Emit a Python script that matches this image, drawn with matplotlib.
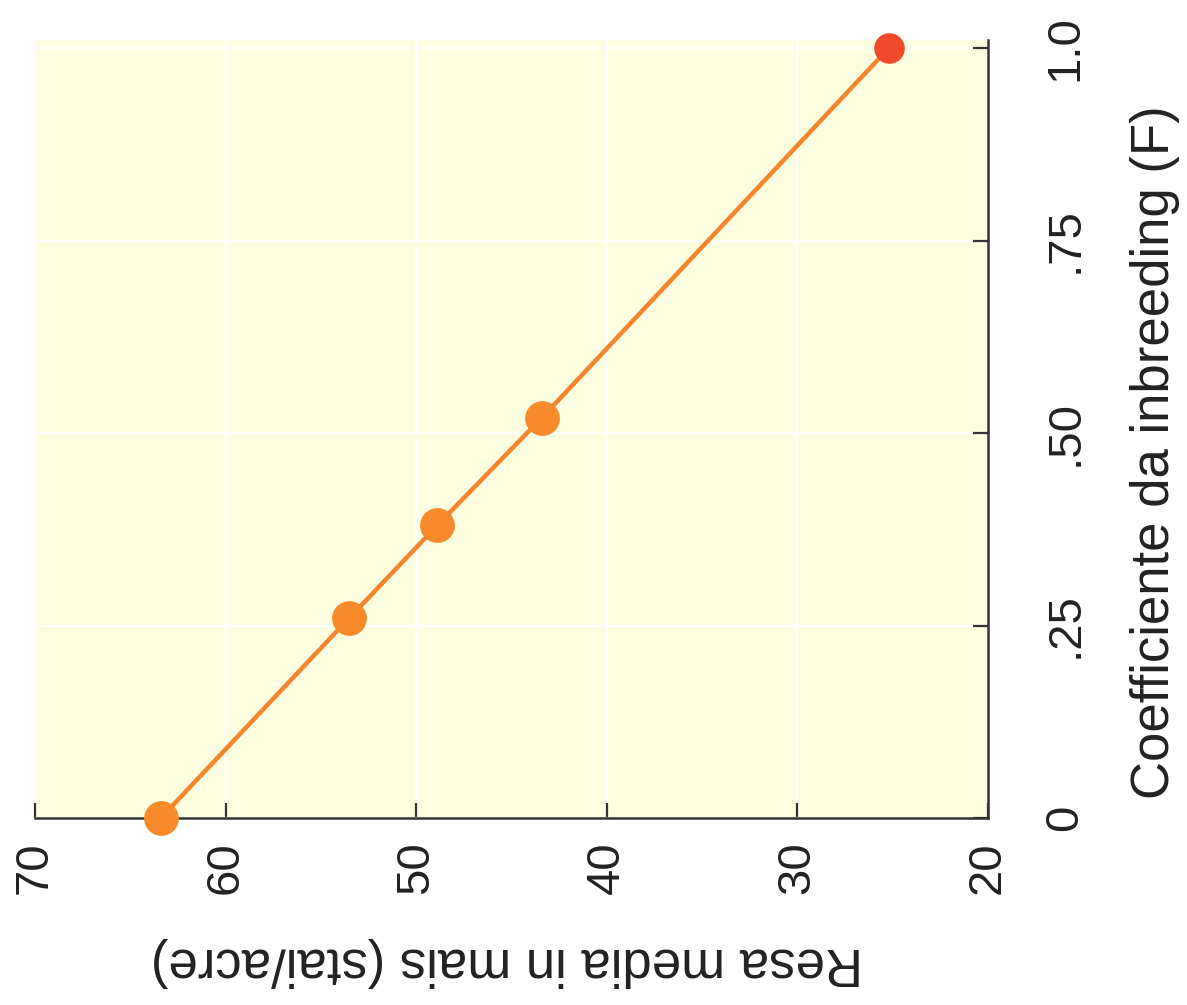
import matplotlib
matplotlib.use("Agg")
import matplotlib.pyplot as plt

# Data
inbreeding_F = [0.0, 0.26, 0.38, 0.52, 1.0]
yield_bu = [63.4, 53.5, 48.9, 43.4, 25.2]
yield_ticks = [70, 60, 50, 40, 30, 20]
yield_ticklabels = ["70", "60", "50", "40", "30", "20"]
F_ticks = [0.0, 0.25, 0.5, 0.75, 1.0]
F_ticklabels = ["0", ".25", ".50", ".75", "1.0"]

plt.rcParams['font.family'] = ['Liberation Sans', 'DejaVu Sans']

W, H = 1187, 1005
fig = plt.figure(figsize=(W / 100, H / 100), dpi=100)
fig.patch.set_facecolor('white')

left, right, top, bottom = 35, 988, 40, 818
ax = fig.add_axes([left / W, 1 - bottom / H, (right - left) / W, (bottom - top) / H])
ax.set_facecolor('#fdfde0')

ax.set_xlim(70, 20)
ax.set_ylim(0, 1.0104)

ax.grid(True, color='#ffffff', linewidth=1.6, alpha=0.85)
ax.set_axisbelow(True)

ax.plot(yield_bu, inbreeding_F, color='#f4852c', linewidth=3.2, zorder=3, clip_on=False)
ax.plot(yield_bu[:-1], inbreeding_F[:-1], 'o', color='#f78a2b', markersize=24, zorder=5, clip_on=False)
ax.plot(yield_bu[-1:], inbreeding_F[-1:], 'o', color='#f04a2a', markersize=21, zorder=5, clip_on=False)

for s in ['top', 'left']:
    ax.spines[s].set_visible(False)
for s in ['bottom', 'right']:
    ax.spines[s].set_color('#333333')
    ax.spines[s].set_linewidth(1.8)
    ax.spines[s].set_zorder(4)

ax.yaxis.tick_right()
ax.set_xticks(yield_ticks)
ax.set_xticklabels(yield_ticklabels, rotation=90, fontsize=34, color='#222222', ha='center', va='top')
ax.set_yticks(F_ticks)
ax.set_yticklabels(F_ticklabels, rotation=90, fontsize=34, color='#222222', va='center')
ax.tick_params(axis='x', direction='in', length=11, width=1.6, pad=17, colors='#333333', labelcolor='#222222')
ax.tick_params(axis='y', direction='in', length=11, width=1.6, pad=40, colors='#333333', labelcolor='#222222')

fig.text(507 / W, 1 - 962 / H, "Resa media in mais (stai/acre)", rotation=180,
         ha='center', va='center', fontsize=38, color='#222222')
fig.text(1155 / W, 1 - 452 / H, "Coefficiente da inbreeding (F)", rotation=90,
         ha='center', va='center', fontsize=38, color='#222222')

fig.savefig("out.png", dpi=100)
